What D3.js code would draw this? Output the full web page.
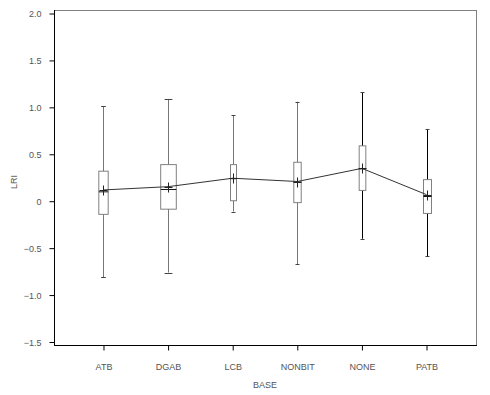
<!DOCTYPE html>
<html>
<head>
<meta charset="utf-8">
<script src="https://cdn.jsdelivr.net/npm/d3@7"></script>
<style>
  body { margin: 0; background: #fff; }
  svg text { font-family: "Liberation Sans", Arial, sans-serif; font-size: 9px; fill: #555; }
</style>
</head>
<body>
<svg width="490" height="395"></svg>
<script>
// box plot data, LRI by BASE
var categories = ["ATB", "DGAB", "LCB", "NONBIT", "NONE", "PATB"];
var whiskerLow = [-0.81, -0.76, -0.11, -0.67, -0.40, -0.585];
var q1 = [-0.14, -0.085, 0.005, -0.015, 0.115, -0.13];
var medians = [0.10, 0.125, 0.24, 0.205, 0.345, 0.05];
var q3 = [0.32, 0.39, 0.39, 0.415, 0.59, 0.23];
var whiskerHigh = [1.01, 1.09, 0.915, 1.06, 1.16, 0.77];
var means = [0.12, 0.155, 0.245, 0.21, 0.35, 0.07];
var sampleSizes = [88, 243, 36, 55, 44, 64];
var yTicks = [-1.5, -1.0, -0.5, 0, 0.5, 1.0, 1.5, 2.0];

var chart = (function(self){
  self.init = function(){
    var svg = d3.select("svg"),
        left = 54, right = 476, top = 10, bottom = 345;

    var rows = categories.map(function(c, i){
      return {name: c, lo: whiskerLow[i], q1: q1[i], med: medians[i], q3: q3[i],
              hi: whiskerHigh[i], mean: means[i], n: sampleSizes[i]};
    });

    var x = d3.scalePoint().domain(categories).range([left, right]).padding(0.766);
    var y = d3.scaleLinear().domain([-1.5, 2.0]).range([342, 13.5]);
    var w = d3.scaleSqrt().domain([0, d3.max(sampleSizes)]).range([0, 15.6]);

    // frame
    svg.append("line").attr("x1", left).attr("x2", right).attr("y1", top + 0.5).attr("y2", top + 0.5)
      .attr("stroke", "#808080");
    svg.append("line").attr("x1", right + 0.5).attr("x2", right + 0.5).attr("y1", top).attr("y2", bottom)
      .attr("stroke", "#808080");

    var yAxis = d3.axisLeft(y).tickValues(yTicks).tickSize(5).tickSizeOuter(0)
      .tickFormat(function(d){ return d === 0 ? "0" : d3.format(".1f")(d); });
    var gy = svg.append("g").attr("transform", "translate(" + (left + 0.5) + ",0)").call(yAxis);
    gy.select(".domain").attr("d", "M0," + top + "V" + bottom).attr("stroke", "#000");
    gy.selectAll(".tick line").attr("stroke", "#000");
    gy.selectAll(".tick text").attr("x", -13).attr("dy", "0.35em");

    var xAxis = d3.axisBottom(x).tickSize(5).tickSizeOuter(0);
    var gx = svg.append("g").attr("transform", "translate(0," + (bottom + 0.5) + ")").call(xAxis);
    gx.select(".domain").attr("d", "M" + left + ",0H" + (right + 1)).attr("stroke", "#000");
    gx.selectAll(".tick line").attr("stroke", "#000");
    gx.selectAll(".tick text").attr("y", 18);

    svg.append("text").attr("x", (left + right) / 2).attr("y", 388)
      .attr("text-anchor", "middle").text("BASE");
    svg.append("text").attr("transform", "translate(17,182) rotate(-90)")
      .attr("text-anchor", "middle").text("LRI");

    var box = svg.selectAll(".box").data(rows).enter().append("g")
      .attr("class", "box")
      .attr("transform", function(d){ return "translate(" + (Math.round(x(d.name)) + 0.5) + ",0)"; });

    box.append("line").attr("class", "whisker")
      .attr("y1", function(d){ return y(d.hi); }).attr("y2", function(d){ return y(d.lo); })
      .attr("stroke", function(d, i){ return i > 3 ? "#000" : "#777"; });

    box.selectAll(".cap").data(function(d){ return [d.hi, d.lo].map(function(v){ return {v: v, n: d.n}; }); })
      .enter().append("line").attr("class", "cap")
      .attr("x1", function(d){ return -Math.max(2, w(d.n) / 4); })
      .attr("x2", function(d){ return Math.max(2, w(d.n) / 4); })
      .attr("y1", function(d){ return Math.round(y(d.v)) + 0.5; })
      .attr("y2", function(d){ return Math.round(y(d.v)) + 0.5; })
      .attr("stroke", "#444");

    box.append("rect")
      .attr("x", function(d){ return -w(d.n) / 2; })
      .attr("width", function(d){ return w(d.n); })
      .attr("y", function(d){ return y(d.q3); })
      .attr("height", function(d){ return y(d.q1) - y(d.q3); })
      .attr("fill", "#fff").attr("stroke", "#808080");

    box.append("line").attr("class", "median")
      .attr("x1", function(d){ return -w(d.n) / 2; }).attr("x2", function(d){ return w(d.n) / 2; })
      .attr("y1", function(d){ return y(d.med); }).attr("y2", function(d){ return y(d.med); })
      .attr("stroke", "#111");

    // line through the means
    var meanLine = d3.line()
      .x(function(d){ return x(d.name); })
      .y(function(d){ return y(d.mean); });
    svg.append("path").datum(rows).attr("d", meanLine)
      .attr("fill", "none").attr("stroke", "#333").attr("stroke-width", 1);

    svg.selectAll(".mean").data(rows).enter().append("path")
      .attr("class", "mean")
      .attr("d", function(d){
        var cx = Math.round(x(d.name)) + 0.5, cy = Math.round(y(d.mean)) + 0.5;
        return "M" + (cx - 4) + "," + cy + "H" + (cx + 4) + "M" + cx + "," + (cy - 5) + "V" + (cy + 5);
      })
      .attr("stroke", "#222").attr("fill", "none");
  };
  return self;
})({});

chart.init();
</script>
</body>
</html>
